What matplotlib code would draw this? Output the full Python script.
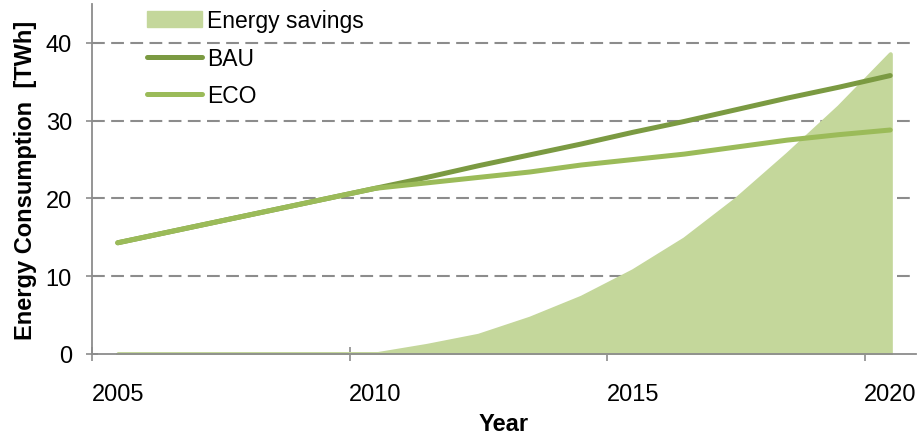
import numpy as np
import matplotlib
matplotlib.use('Agg')
import matplotlib.pyplot as plt
from matplotlib.patches import Patch
from matplotlib.lines import Line2D

# data (TWh per year)
years   = [2005, 2006, 2007, 2008, 2009, 2010, 2011, 2012, 2013, 2014, 2015, 2016, 2017, 2018, 2019, 2020]
bau     = [14.3, 15.7, 17.1, 18.5, 19.9, 21.3, 22.7, 24.2, 25.6, 27.0, 28.5, 29.9, 31.4, 32.9, 34.3, 35.8]
eco     = [14.3, 15.7, 17.1, 18.5, 19.9, 21.3, 22.0, 22.7, 23.4, 24.3, 25.0, 25.7, 26.6, 27.5, 28.2, 28.8]
savings = [0.0, 0.0, 0.0, 0.0, 0.0, 0.0, 1.1, 2.4, 4.6, 7.3, 10.7, 14.8, 19.9, 25.7, 31.8, 38.6]
label_years = [2005, 2010, 2015, 2020]
yticks = [0, 10, 20, 30, 40]

c_sav = '#C4D79B'
c_bau = '#7B9A42'
c_eco = '#9BBB59'
c_axis = '#8C8C8C'

plt.rcParams['font.family'] = 'Liberation Sans'
plt.rcParams['lines.scale_dashes'] = False

fig = plt.figure(figsize=(9.18, 4.35), dpi=100)
ax = fig.add_axes([92/918, 1-355/435, 824/918, 350/435])

x = np.array(years, dtype=float)

# area + lines
ax.fill_between(x, 0, savings, facecolor=c_sav, edgecolor=c_sav, linewidth=3.0, joinstyle='round', zorder=2)
ax.plot(x, bau, color=c_bau, lw=3.6, solid_capstyle='round', zorder=3)
ax.plot(x, eco, color=c_eco, lw=3.6, solid_capstyle='round', zorder=4)

ax.set_xlim(2004.5, 2020.5)
ax.set_ylim(0, 45)

# grid (dashed, behind area)
for yv in yticks[1:]:
    ax.axhline(yv, color=c_axis, lw=1.5, linestyle=(0, (9.2, 4.6)), zorder=1)

# spines
for s in ['top', 'right']:
    ax.spines[s].set_visible(False)
for s in ['left', 'bottom']:
    ax.spines[s].set_color(c_axis)
    ax.spines[s].set_linewidth(1.3)

# y ticks
ax.set_yticks(yticks)
ax.tick_params(axis='y', direction='inout', length=9, width=1.2, color=c_axis, labelsize=17, pad=10)

# x ticks: marks between categories, labels on category centers
ax.set_xticks([y - 0.5 for y in label_years])
ax.set_xticklabels([])
ax.tick_params(axis='x', which='major', direction='inout', length=10, width=1.2, color=c_axis)
ax.set_xticks(label_years, minor=True)
ax.set_xticklabels([str(y) for y in label_years], minor=True)
ax.tick_params(axis='x', which='minor', length=0, labelsize=17, pad=21)

ax.set_xlabel('Year', fontsize=17, fontweight='bold', labelpad=5)
ax.set_ylabel('Energy Consumption  [TWh]', fontsize=17, fontweight='bold', labelpad=6)

# legend
handles = [Patch(facecolor=c_sav, edgecolor=c_sav),
           Line2D([0], [0], color=c_bau, lw=3.6, solid_capstyle='round'),
           Line2D([0], [0], color=c_eco, lw=3.6, solid_capstyle='round')]
leg = ax.legend(handles, ['Energy savings', 'BAU', 'ECO'], loc='upper left',
                bbox_to_anchor=(147/918, 1-10/435), bbox_transform=fig.transFigure,
                frameon=False, fontsize=16.5, handlelength=2.4, handleheight=0.65,
                handletextpad=0.22, labelspacing=0.64, borderpad=0, borderaxespad=0)

fig.savefig('out.png', dpi=100)
